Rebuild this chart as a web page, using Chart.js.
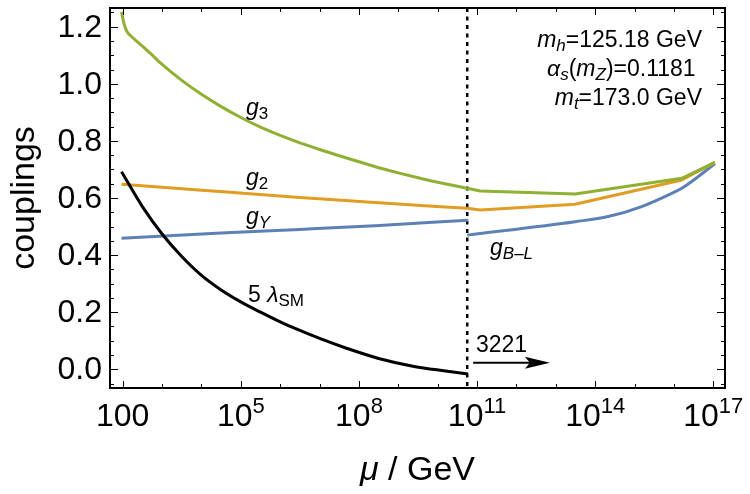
<!DOCTYPE html>
<html><head><meta charset="utf-8">
<script src="https://cdn.jsdelivr.net/npm/chart.js@4.4.1/dist/chart.umd.min.js"></script>
<style>html,body{margin:0;padding:0;background:#fff}canvas{display:block}</style>
</head><body>
<canvas id="c" width="750" height="494" style="width:750px;height:494px"></canvas>
<script>
// x values are log10(mu / GeV)
const lamX   = [1.97, 2.5, 3.0, 3.5, 4.0, 4.5, 5.0, 5.5, 6.0, 6.5, 7.0, 7.7, 8.5, 9.4, 10.2, 10.77];
const lam5   = [0.692, 0.570, 0.474, 0.395, 0.329, 0.278, 0.236, 0.200, 0.166, 0.136, 0.108, 0.073, 0.038, 0.010, -0.006, -0.0165];

const g3LowX = [1.97, 2.03, 2.10, 2.2, 2.3, 2.5, 2.69, 3.0, 3.5, 4.0, 4.5, 5.0, 5.5, 6.0, 6.5, 7.0, 7.5, 8.0, 8.5, 9.0, 9.5, 10.0, 10.75];
const g3Low  = [1.252, 1.212, 1.185, 1.168, 1.156, 1.132, 1.108, 1.068, 1.012, 0.963, 0.920, 0.882, 0.848, 0.819, 0.793, 0.770, 0.748, 0.727, 0.706, 0.688, 0.671, 0.655, 0.634];
const g3HighX = [10.75, 11.08, 13.49, 16.2, 17.04];
const g3High  = [0.634, 0.6245, 0.614, 0.669, 0.725];

const g2LowX = [1.97, 3.0, 4.73, 6.5, 8.41, 10.75];
const g2Low  = [0.648, 0.638, 0.620, 0.602, 0.584, 0.564];
const g2HighX = [10.75, 11.08, 13.49, 16.2, 17.04];
const g2High  = [0.564, 0.558, 0.578, 0.663, 0.725];

const gYX = [1.97, 4.5, 6.5, 8.41, 10.77];
const gY  = [0.459, 0.477, 0.490, 0.503, 0.522];
const gBLX = [10.75, 13.49, 14.33, 15.18, 16.03, 16.2, 17.04];
const gBL  = [0.470, 0.517, 0.535, 0.570, 0.622, 0.634, 0.720];

const thresholdX = 10.75;

const xTickMajor = [2, 5, 8, 11, 14, 17];
const xTickBase  = ['100', '10', '10', '10', '10', '10'];
const xTickExp   = ['', '5', '8', '11', '14', '17'];
const xTickMinor = [3, 4, 6, 7, 9, 10, 12, 13, 15, 16];
const yTickMajor = [0.0, 0.2, 0.4, 0.6, 0.8, 1.0, 1.2];
const yTickLabels = ['0.0', '0.2', '0.4', '0.6', '0.8', '1.0', '1.2'];
const yTickMinor = [-0.05, 0.05, 0.1, 0.15, 0.25, 0.3, 0.35, 0.45, 0.5, 0.55, 0.65, 0.7, 0.75, 0.85, 0.9, 0.95, 1.05, 1.1, 1.15, 1.25];

const BLUE = '#5E81B5', ORANGE = '#E19C24', GREEN = '#8FB032', BLACK = '#000000';
const FAM = '"Liberation Sans", Arial, Helvetica, sans-serif';

function pts(xs, ys) { return xs.map((x, i) => ({x: x, y: ys[i]})); }
function ds(xs, ys, color, smooth) {
  return { data: pts(xs, ys), borderColor: color, borderWidth: 3, pointRadius: 0,
    fill: false, tension: smooth ? 0.4 : 0, cubicInterpolationMode: smooth ? 'monotone' : 'default',
    borderCapStyle: 'butt', borderJoinStyle: 'round' };
}

function font(s) {
  return (s.italic ? 'italic ' : '') + s.size + 'px ' + FAM;
}
function drawRich(ctx, segs, x, y, align) {
  let total = 0;
  segs.forEach(s => { ctx.font = font(s); s.w = ctx.measureText(s.t).width; total += s.w; });
  let cx = align === 'right' ? x - total : (align === 'center' ? x - total / 2 : x);
  ctx.textAlign = 'left';
  ctx.textBaseline = 'alphabetic';
  segs.forEach(s => { ctx.font = font(s); ctx.fillText(s.t, cx, y + (s.dy || 0)); cx += s.w; });
}

const decor = {
  id: 'decor',
  beforeDatasetsDraw(chart) {
    const ctx = chart.ctx, xs = chart.scales.x, a = chart.chartArea;
    const tx = xs.getPixelForValue(thresholdX);
    ctx.save();
    ctx.strokeStyle = '#000';
    ctx.lineWidth = 2.5;
    ctx.setLineDash([4, 4.5]);
    ctx.beginPath(); ctx.moveTo(tx, a.top); ctx.lineTo(tx, a.bottom); ctx.stroke();
    ctx.restore();
  },
  afterDatasetsDraw(chart) {
    const ctx = chart.ctx, xs = chart.scales.x, ys = chart.scales.y, a = chart.chartArea;
    ctx.save();
    ctx.fillStyle = '#000';
    ctx.strokeStyle = '#000';
    ctx.lineWidth = 2;
    ctx.strokeRect(a.left, a.top, a.right - a.left, a.bottom - a.top);
    ctx.lineWidth = 1;
    function xt(v, len) {
      const p = Math.round(xs.getPixelForValue(v)) + 0.5;
      ctx.beginPath();
      ctx.moveTo(p, a.bottom); ctx.lineTo(p, a.bottom - len);
      ctx.moveTo(p, a.top); ctx.lineTo(p, a.top + len);
      ctx.stroke();
    }
    function yt(v, len) {
      const p = Math.round(ys.getPixelForValue(v)) + 0.5;
      ctx.beginPath();
      ctx.moveTo(a.left, p); ctx.lineTo(a.left + len, p);
      ctx.moveTo(a.right, p); ctx.lineTo(a.right - len, p);
      ctx.stroke();
    }
    xTickMajor.forEach(v => xt(v, 7));
    xTickMinor.forEach(v => xt(v, 4));
    yTickMajor.forEach(v => yt(v, 8));
    yTickMinor.forEach(v => yt(v, 4));
    ctx.font = '32px ' + FAM;
    ctx.textAlign = 'right';
    ctx.textBaseline = 'middle';
    yTickMajor.forEach((v, i) => ctx.fillText(yTickLabels[i], a.left - 8, ys.getPixelForValue(v) + 1));
    xTickMajor.forEach((v, i) => {
      const segs = [{t: xTickBase[i], size: 32}];
      if (xTickExp[i]) segs.push({t: xTickExp[i], size: 22, dy: -13});
      drawRich(ctx, segs, xs.getPixelForValue(v), a.bottom + 38, 'center');
    });
    drawRich(ctx, [{t: '\u03BC', size: 34, italic: true}, {t: ' / GeV', size: 34}], (a.left + a.right) / 2, 480, 'center');
    ctx.save();
    ctx.translate(34, (a.top + a.bottom) / 2);
    ctx.rotate(-Math.PI / 2);
    drawRich(ctx, [{t: 'couplings', size: 34}], 0, 0, 'center');
    ctx.restore();
    drawRich(ctx, [{t: 'g', size: 23, italic: true}, {t: '3', size: 17, dy: 4}], 246, 115, 'left');
    drawRich(ctx, [{t: 'g', size: 23, italic: true}, {t: '2', size: 17, dy: 4}], 246, 185, 'left');
    drawRich(ctx, [{t: 'g', size: 23, italic: true}, {t: 'Y', size: 17, italic: true, dy: 4}], 246, 224, 'left');
    drawRich(ctx, [{t: 'g', size: 23, italic: true}, {t: 'B\u2013L', size: 17, italic: true, dy: 4}], 490, 255, 'left');
    drawRich(ctx, [{t: '5 ', size: 23}, {t: '\u03BB', size: 23, italic: true}, {t: 'SM', size: 17, dy: 4}], 248, 301.5, 'left');
    drawRich(ctx, [{t: '3221', size: 23}], 476, 351.5, 'left');
    const ax0 = xs.getPixelForValue(10.9), ax1 = xs.getPixelForValue(12.85), ay = ys.getPixelForValue(0.023);
    ctx.lineWidth = 2.2;
    ctx.beginPath(); ctx.moveTo(ax0, ay); ctx.lineTo(ax1 - 15, ay); ctx.stroke();
    ctx.beginPath();
    ctx.moveTo(ax1, ay); ctx.lineTo(ax1 - 25, ay - 6); ctx.lineTo(ax1 - 20, ay); ctx.lineTo(ax1 - 25, ay + 6);
    ctx.closePath(); ctx.fill();
    drawRich(ctx, [{t: 'm', size: 23, italic: true}, {t: 'h', size: 17, italic: true, dy: 4}, {t: '=125.18 GeV', size: 23}], 702, 47, 'right');
    drawRich(ctx, [{t: '\u03B1', size: 23, italic: true}, {t: 's', size: 17, italic: true, dy: 4}, {t: '(', size: 23},
      {t: 'm', size: 23, italic: true}, {t: 'Z', size: 17, italic: true, dy: 4}, {t: ')=0.1181 ', size: 23}], 702, 76, 'right');
    drawRich(ctx, [{t: 'm', size: 23, italic: true}, {t: 't', size: 17, italic: true, dy: 4}, {t: '=173.0 GeV', size: 23}], 702, 105, 'right');
    ctx.restore();
  }
};

new Chart(document.getElementById('c').getContext('2d'), {
  type: 'line',
  data: {
    datasets: [
      ds(lamX, lam5, BLACK, true),
      ds(g3LowX, g3Low, GREEN, true),
      ds(g3HighX, g3High, GREEN, false),
      ds(g2LowX, g2Low, ORANGE, true),
      ds(g2HighX, g2High, ORANGE, false),
      ds(gYX, gY, BLUE, true),
      ds(gBLX, gBL, BLUE, true)
    ]
  },
  options: {
    responsive: false,
    animation: false,
    layout: { padding: { top: 8, right: 25, left: 0, bottom: 0 } },
    scales: {
      x: { type: 'linear', min: 1.677, max: 17.297, grid: { display: false }, border: { display: false },
           ticks: { display: false }, afterFit: s => { s.height = 106; } },
      y: { type: 'linear', min: -0.0655, max: 1.2655, grid: { display: false }, border: { display: false },
           ticks: { display: false }, afterFit: s => { s.width = 110; } }
    },
    plugins: { legend: { display: false }, tooltip: { enabled: false } }
  },
  plugins: [decor]
});
</script>
</body></html>
